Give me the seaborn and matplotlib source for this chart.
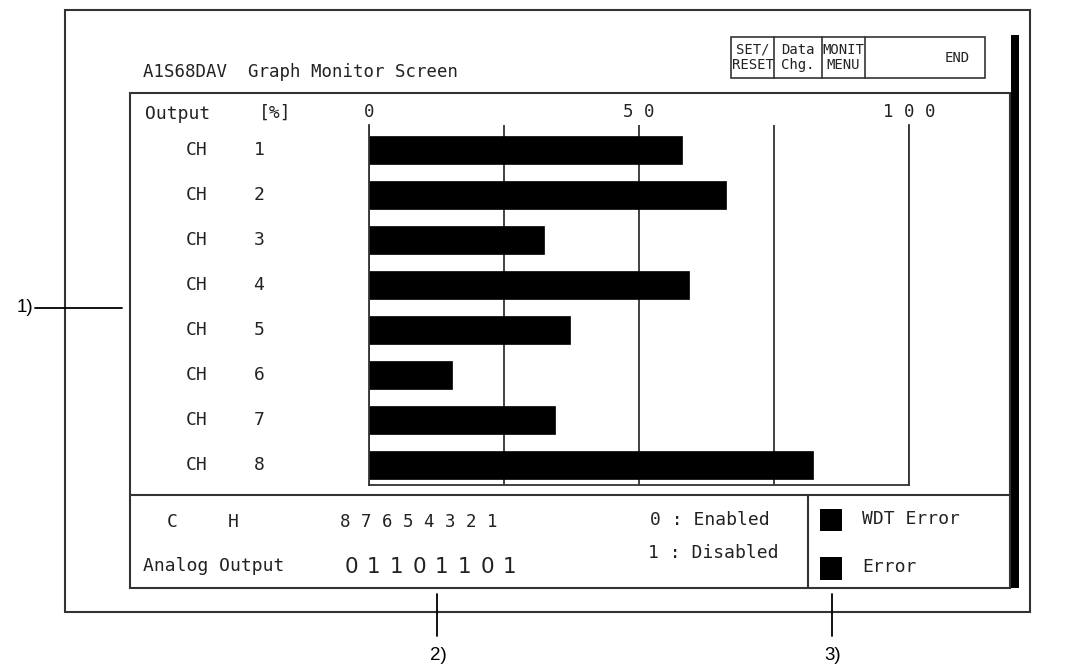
import matplotlib.pyplot as plt
import seaborn as sns
from matplotlib.patches import Rectangle
from matplotlib.transforms import blended_transform_factory

CHANNELS = ["1", "2", "3", "4", "5", "6", "7", "8"]
OUTPUT_PCT = [58.0, 66.1, 32.4, 59.3, 37.2, 15.4, 34.5, 82.2]
TICKS = [0, 25, 50, 75, 100]
TICK_LABELS = ["0", "", "5 0", "", "1 0 0"]
CH_ORDER = "8 7 6 5 4 3 2 1"
OUTPUT_BITS = "01101101"
BUTTONS = [("SET/\nRESET", 753), ("Data\nChg.", 798), ("MONIT\nMENU", 843), ("END", 957)]

W, H = 1087, 669
LINE = "#333333"
TXT = "#222222"
MONO = ["DejaVu Sans Mono"]
OUTPUT_FIGURE_PATH = "out.png"


def main():
    sns.set_theme(style="white")
    plt.rcParams["font.family"] = MONO
    plt.rcParams["text.color"] = TXT

    fig = plt.figure(figsize=(W / 100, H / 100), dpi=100)

    # background axes in pixel coordinates for the screen frame
    bg = fig.add_axes([0, 0, 1, 1])
    bg.set_xlim(0, W)
    bg.set_ylim(H, 0)
    bg.axis("off")

    bg.add_patch(Rectangle((65, 10), 965, 602, fill=False, ec=LINE, lw=1.5))
    bg.add_patch(Rectangle((130, 93), 880, 495, fill=False, ec=LINE, lw=1.5))
    bg.plot([130, 1010], [495, 495], color=LINE, lw=1.5)
    bg.plot([808, 808], [495, 588], color=LINE, lw=1.5)
    bg.add_patch(Rectangle((1011, 35), 8, 553, color="black", lw=0))

    # buttons
    bg.add_patch(Rectangle((731, 37), 254, 41, fill=False, ec=LINE, lw=1.2))
    for xd in [774, 822, 865]:
        bg.plot([xd, xd], [37, 78], color=LINE, lw=1.2)
    for label, xc in BUTTONS:
        bg.text(xc, 57.5, label, ha="center", va="center", fontsize=10, linespacing=1.15)

    bg.text(143, 72, "A1S68DAV  Graph Monitor Screen", ha="left", va="center", fontsize=12.5)
    bg.text(145, 114, "Output", ha="left", va="center", fontsize=13)
    bg.text(259, 113, "[%]", ha="left", va="center", fontsize=13)

    # bar chart
    x0, x1, y0, y1 = 369, 909, 125, 485
    ax = fig.add_axes([x0 / W, (H - y1) / H, (x1 - x0) / W, (y1 - y0) / H])
    sns.barplot(x=OUTPUT_PCT, y=CHANNELS, orient="h", color="black", saturation=1,
                width=0.62, ax=ax, edgecolor="black", linewidth=0.5)
    ax.set_xlim(0, 100)
    ax.set_ylim(7.444, -0.556)
    ax.set_xticks(TICKS)
    ax.set_xticklabels(TICK_LABELS, fontsize=12.5, color=TXT)
    ax.xaxis.tick_top()
    ax.tick_params(axis="x", length=0, pad=3)
    ax.set_yticks([])
    ax.set_xlabel("")
    ax.set_ylabel("")
    ax.set_axisbelow(True)
    ax.grid(axis="x", color=LINE, lw=1.3)
    ax.set_facecolor("none")
    for side in ["left", "bottom", "right"]:
        ax.spines[side].set_visible(True)
        ax.spines[side].set_color(LINE)
        ax.spines[side].set_linewidth(1.3)
    ax.spines["top"].set_visible(False)

    tr = blended_transform_factory(bg.transData, ax.transData)
    for i, ch in enumerate(CHANNELS):
        bg.text(197, i, "CH", transform=tr, ha="center", va="center", fontsize=13)
        bg.text(259, i, ch, transform=tr, ha="center", va="center", fontsize=13)

    # bottom panel
    bg.text(172, 522, "C", ha="center", va="center", fontsize=13)
    bg.text(233, 522, "H", ha="center", va="center", fontsize=13)
    bg.text(340, 522, CH_ORDER, ha="left", va="center", fontsize=12.5)
    bg.text(143, 566, "Analog Output", ha="left", va="center", fontsize=13)
    for i, b in enumerate(OUTPUT_BITS):
        bg.text(351 + i * 22.7, 567, b, ha="center", va="center", fontsize=15.5,
                family=["DejaVu Sans"])
    bg.text(650, 520, "0 : Enabled", ha="left", va="center", fontsize=13)
    bg.text(648, 553, "1 : Disabled", ha="left", va="center", fontsize=13)
    bg.add_patch(Rectangle((820, 509), 22, 22, color="black", lw=0))
    bg.add_patch(Rectangle((820, 557), 22, 23, color="black", lw=0))
    bg.text(862, 519, "WDT Error", ha="left", va="center", fontsize=13)
    bg.text(862, 567, "Error", ha="left", va="center", fontsize=13)

    # callouts
    sans = ["Liberation Sans"]
    bg.plot([35, 122], [308, 308], color="black", lw=1.3)
    bg.text(25, 308, "1)", ha="center", va="center", fontsize=13.5, family=sans, color="black")
    for xc, tag in [(437, "2)"), (832, "3)")]:
        bg.plot([xc, xc], [594, 636], color="black", lw=1.3)
        bg.text(xc + 1, 656, tag, ha="center", va="center", fontsize=13.5, family=sans,
                color="black")

    fig.savefig(OUTPUT_FIGURE_PATH, dpi=100)
    print(f"Saved figure to {OUTPUT_FIGURE_PATH}")


if __name__ == "__main__":
    main()
